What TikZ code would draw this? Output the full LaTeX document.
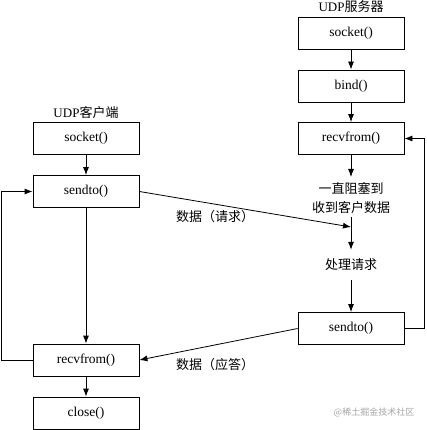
\documentclass[tikz,border=0pt]{standalone}
\usepackage{fontspec}
\setmainfont{Liberation Serif}
\newfontfamily\cjk{Noto Sans CJK SC}
\usetikzlibrary{arrows.meta}
\begin{document}
\begin{tikzpicture}[x=1pt,y=-1pt,
  box/.style={draw, line width=0.8pt, minimum width=106pt, minimum height=32pt, inner sep=0pt, font=\fontsize{13.5}{15}\selectfont},
  arr/.style={-{Latex[length=8pt,width=6pt]}, line width=0.8pt},
  lbl/.style={font=\fontsize{13}{19.5}\selectfont\cjk, inner sep=0pt, align=center},
  wm/.style={font=\fontsize{9}{11}\selectfont\cjk, text=black!35, inner sep=0pt}]
\useasboundingbox (0,0) rectangle (426,430);
% client
\node[lbl] (ctitle) at (86,113) {\rmfamily UDP\cjk 客户端};
\node[box] (cs) at (86,138.5) {socket()};
\node[box] (csend) at (86,191.5) {sendto()};
\node[box] (crecv) at (86,360) {recvfrom()};
\node[box] (cclose) at (86,413) {close()};
% server
\node[lbl] (stitle) at (351,7) {\rmfamily UDP\cjk 服务器};
\node[box] (ss) at (351,33) {socket()};
\node[box] (sb) at (351,86) {bind()};
\node[box] (sr) at (351,138.5) {recvfrom()};
\node[lbl] (block) at (351,198) {一直阻塞到\\收到客户数据};
\coordinate (req) at (351,227);
\node[lbl] (proc) at (351,265) {处理请求};
\node[box] (ssend) at (351,328.5) {sendto()};
% labels
\node[lbl] (lreq) at (215,217) {数据（请求）};
\node[lbl] (lans) at (215,365) {数据（应答）};
\node[wm] (wmark) at (374,412) {@稀土掘金技术社区};
% client arrows
\draw[arr] (cs) -- (csend);
\draw[arr] (csend) -- (crecv);
\draw[arr] (crecv) -- (cclose);
\draw[arr] (crecv.west) -- ++(-31,0) |- (csend.west);
% server arrows
\draw[arr] (ss) -- (sb);
\draw[arr] (sb) -- (sr);
\draw[arr, shorten >=5pt] (sr.south) -- (block.north);
\draw[arr, shorten <=3pt, shorten >=9pt] (block.south) -- (proc.north);
\draw[arr, shorten <=9pt] (proc.south) -- (ssend.north);
\draw[arr] (ssend.east) -- (424.5,328.5) |- (sr.east);
% data
\draw[arr] (csend.east) -- (req);
\draw[arr] (ssend.west) -- (crecv.east);
\end{tikzpicture}
\end{document}
